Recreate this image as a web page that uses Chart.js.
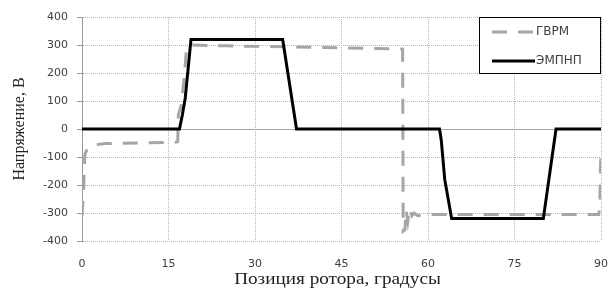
<!DOCTYPE html>
<html>
<head>
<meta charset="utf-8">
<script src="https://cdn.jsdelivr.net/npm/chart.js@4"></script>
<style>
  html, body { margin: 0; padding: 0; background: #fff; }
  #wrap { width: 611px; height: 291px; }
</style>
</head>
<body>
<div id="wrap"><canvas id="chart"></canvas></div>
<script>
// ГВРМ (gray dashed)
const gvrmAngle = [0, 0.2, 0.4, 0.5, 0.9, 1.6, 2.5, 4, 10, 16.2, 16.6, 16.7, 17.2, 17.7, 18.1, 18.6, 25, 40, 55.5,
  55.6, 55.7, 56.0, 56.2, 56.5, 56.8, 57.2, 57.6, 58.2, 60, 70, 80, 89.6, 89.8, 89.9, 90];
const gvrmVoltage = [-310, -250, -150, -90, -72, -62, -56, -52, -50, -47, -45, 50, 85, 180, 280, 300, 297, 292, 286,
  285, -365, -360, -290, -330, -285, -310, -300, -310, -305, -305, -305, -305, -280, -150, -70];

// ЭМПНП (black solid)
const empnpAngle = [0, 16.9, 17.4, 17.9, 18.9, 34.8, 37.2, 62, 62.3, 62.9, 64.1, 80, 82.2, 90];
const empnpVoltage = [0, 0, 50, 110, 320, 320, 0, 0, -40, -180, -320, -320, 0, 0];

const seriesNames = ["ГВРМ", "ЭМПНП"];
const xTitle = "Позиция ротора, градусы";
const yTitle = "Напряжение, В";

const toPoints = (xs, ys) => xs.map((x, i) => ({ x: x, y: ys[i] }));

const GRAY = "#a6a6a6";
const TEXT = "#404040";

const extras = {
  id: "extras",
  beforeDatasetsDraw(chart) {
    const { ctx, chartArea, scales } = chart;
    const y0 = Math.round(scales.y.getPixelForValue(0)) + 0.5;
    ctx.save();
    ctx.strokeStyle = GRAY;
    ctx.lineWidth = 1;
    ctx.beginPath();
    ctx.moveTo(chartArea.left, y0);
    ctx.lineTo(chartArea.right, y0);
    ctx.stroke();
    ctx.restore();
  },
  afterDraw(chart) {
    const { ctx, chartArea } = chart;
    ctx.save();
    // axis titles
    ctx.fillStyle = "#222";
    ctx.font = "16px 'Liberation Serif'";
    ctx.textAlign = "center";
    ctx.textBaseline = "middle";
    ctx.save();
    ctx.translate((chartArea.left + chartArea.right) / 2 - 4, 280);
    ctx.scale(1.2, 1);
    ctx.fillText(xTitle, 0, 0);
    ctx.restore();
    ctx.translate(20, 129);
    ctx.rotate(-Math.PI / 2);
    ctx.fillText(yTitle, 0, 0);
    ctx.restore();

    // legend box
    ctx.save();
    ctx.fillStyle = "#fff";
    ctx.fillRect(479, 17, 122, 57);
    ctx.strokeStyle = "#000";
    ctx.lineWidth = 1;
    ctx.strokeRect(479.5, 17.5, 121, 56);
    ctx.lineWidth = 3;
    ctx.strokeStyle = GRAY;
    ctx.setLineDash([15, 11]);
    ctx.beginPath();
    ctx.moveTo(492, 32);
    ctx.lineTo(534, 32);
    ctx.stroke();
    ctx.setLineDash([]);
    ctx.strokeStyle = "#000";
    ctx.beginPath();
    ctx.moveTo(492, 61);
    ctx.lineTo(535, 61);
    ctx.stroke();
    ctx.fillStyle = TEXT;
    ctx.font = "12px 'DejaVu Sans'";
    ctx.textAlign = "left";
    ctx.textBaseline = "middle";
    ctx.fillText(seriesNames[0], 536, 32);
    ctx.fillText(seriesNames[1], 536, 61);
    ctx.restore();
  }
};

new Chart(document.getElementById("chart"), {
  type: "scatter",
  data: {
    datasets: [
      {
        label: seriesNames[1],
        data: toPoints(empnpAngle, empnpVoltage),
        showLine: true,
        borderColor: "#000",
        borderWidth: 3,
        pointRadius: 0,
        tension: 0,
        order: 0
      },
      {
        label: seriesNames[0],
        data: toPoints(gvrmAngle, gvrmVoltage),
        showLine: true,
        borderColor: GRAY,
        borderWidth: 3,
        borderDash: [15, 11],
        pointRadius: 0,
        tension: 0,
        order: 1
      }
    ]
  },
  options: {
    responsive: true,
    maintainAspectRatio: false,
    animation: false,
    layout: { padding: { top: 17, right: 10, left: 0, bottom: 0 } },
    plugins: {
      legend: { display: false },
      tooltip: { enabled: false }
    },
    scales: {
      x: {
        type: "linear",
        min: 0,
        max: 90,
        ticks: { stepSize: 15, color: TEXT, font: { family: "DejaVu Sans", size: 11 }, padding: 17, maxRotation: 0 },
        grid: { color: "#b4b4b4", drawTicks: false },
        border: { display: false, dash: [1, 1] },
        afterFit(scale) {
          scale.height = 50;
          scale.paddingLeft = 0;
          scale.paddingRight = 0;
        }
      },
      y: {
        min: -400,
        max: 400,
        ticks: { stepSize: 100, color: TEXT, font: { family: "DejaVu Sans", size: 11 }, padding: 9 },
        grid: { color: "#b4b4b4", tickLength: 5, tickColor: "#999" },
        border: { display: true, color: "#999", width: 1, dash: [1, 1] },
        afterFit(scale) {
          scale.width = 82;
          scale.paddingTop = 0;
          scale.paddingBottom = 0;
        }
      }
    }
  },
  plugins: [extras]
});
</script>
</body>
</html>
